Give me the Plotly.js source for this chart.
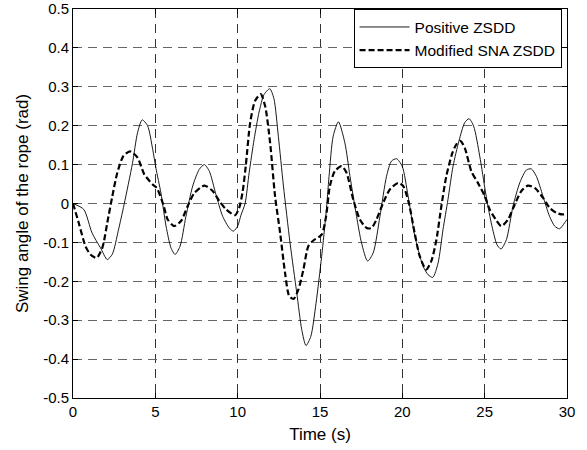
<!DOCTYPE html>
<html>
<head>
<meta charset="utf-8">
<script src="https://cdn.plot.ly/plotly-3.0.1.min.js"></script>
<style>html,body{margin:0;padding:0;background:#fff;}#chart{width:587px;height:450px;}</style>
</head>
<body>
<div id="chart"></div>
<script>
// Positive ZSDD (solid)
const timePositive = [0, 0.65, 1.16, 1.67, 2.08, 2.39, 2.75, 3.1, 3.61, 3.92, 4.2, 4.53, 4.84, 5.04, 5.34, 5.65, 5.95, 6.2, 6.5, 6.86, 7.27, 7.67, 7.98, 8.28, 8.68, 9.09, 9.49, 9.74, 10.0, 10.2, 10.45, 10.7, 11.0, 11.3, 11.6, 11.95, 12.2, 12.47, 12.78, 13.18, 13.59, 13.89, 14.15, 14.44, 14.76, 15.1, 15.37, 15.55, 15.8, 16.12, 16.51, 16.82, 17.22, 17.52, 17.89, 18.23, 18.64, 19.04, 19.34, 19.65, 19.99, 20.35, 20.72, 21.0, 21.26, 21.56, 21.85, 22.17, 22.47, 22.77, 23.08, 23.44, 23.79, 24.05, 24.33, 24.7, 25.06, 25.4, 25.75, 25.99, 26.32, 26.72, 27.13, 27.53, 27.83, 28.14, 28.54, 28.94, 29.25, 29.55, 29.85, 30];
const swingPositive = [0, -0.015, -0.076, -0.114, -0.144, -0.13, -0.07, -0.003, 0.103, 0.182, 0.215, 0.2, 0.139, 0.09, 0.027, -0.058, -0.114, -0.131, -0.11, -0.033, 0.045, 0.088, 0.1, 0.083, 0.023, -0.033, -0.063, -0.071, -0.058, -0.03, 0.0, 0.08, 0.165, 0.235, 0.28, 0.295, 0.27, 0.173, 0.045, -0.101, -0.23, -0.324, -0.365, -0.342, -0.256, -0.136, -0.024, 0.07, 0.173, 0.21, 0.156, 0.07, -0.033, -0.101, -0.148, -0.127, -0.033, 0.07, 0.109, 0.115, 0.096, 0.019, -0.076, -0.125, -0.161, -0.183, -0.19, -0.153, -0.067, 0.01, 0.096, 0.161, 0.208, 0.218, 0.199, 0.122, 0.027, -0.05, -0.106, -0.117, -0.093, -0.007, 0.053, 0.086, 0.089, 0.07, 0.019, -0.033, -0.058, -0.065, -0.05, -0.041];

// Modified SNA ZSDD (dashed)
const timeModified = [0, 0.35, 0.76, 1.06, 1.43, 1.78, 2.08, 2.39, 2.69, 3.06, 3.47, 3.92, 4.33, 4.84, 5.09, 5.5, 5.75, 6.15, 6.56, 6.96, 7.37, 7.98, 8.48, 8.89, 9.29, 9.84, 10.1, 10.3, 10.5, 10.76, 11.06, 11.4, 11.67, 11.97, 12.27, 12.58, 12.88, 13.14, 13.4, 13.69, 13.99, 14.29, 14.6, 15.1, 15.37, 15.6, 15.9, 16.31, 16.61, 17.02, 17.42, 17.83, 18.13, 18.43, 18.84, 19.24, 19.75, 20.05, 20.39, 20.75, 21.06, 21.45, 21.76, 22.07, 22.37, 22.67, 23.04, 23.28, 23.52, 23.79, 24.19, 24.59, 25.0, 25.3, 25.67, 26.01, 26.42, 26.82, 27.23, 27.63, 28.04, 28.54, 28.94, 29.35, 29.75, 30];
const swingModified = [0, -0.05, -0.11, -0.131, -0.14, -0.114, -0.05, 0.019, 0.079, 0.122, 0.134, 0.118, 0.075, 0.049, 0.04, -0.005, -0.041, -0.058, -0.045, -0.007, 0.027, 0.046, 0.032, 0.006, -0.015, -0.03, -0.01, 0.03, 0.1, 0.208, 0.264, 0.281, 0.25, 0.156, 0.019, -0.076, -0.179, -0.239, -0.245, -0.221, -0.17, -0.11, -0.095, -0.08, -0.033, 0.045, 0.083, 0.096, 0.079, 0.01, -0.041, -0.063, -0.063, -0.041, 0.002, 0.036, 0.053, 0.045, 0.002, -0.076, -0.136, -0.17, -0.148, -0.093, -0.007, 0.07, 0.13, 0.152, 0.161, 0.143, 0.083, 0.053, 0.019, -0.015, -0.041, -0.058, -0.041, -0.003, 0.032, 0.046, 0.04, 0.015, -0.011, -0.024, -0.028, -0.024];

const seriesNames = ['Positive ZSDD', 'Modified SNA ZSDD'];
const xTickVals = [0, 5, 10, 15, 20, 25, 30];
const xTickText = ['0', '5', '10', '15', '20', '25', '30'];
const yTickVals = [-0.5, -0.4, -0.3, -0.2, -0.1, 0, 0.1, 0.2, 0.3, 0.4, 0.5];
const yTickText = ['-0.5', '-0.4', '-0.3', '-0.2', '-0.1', '0', '0.1', '0.2', '0.3', '0.4', '0.5'];
const xLabel = 'Time (s)';
const yLabel = 'Swing angle of the rope (rad)';

const font = 'Liberation Sans, Arial, Helvetica, sans-serif';

const traces = [
  {x: timePositive, y: swingPositive, name: seriesNames[0], legendgroup: 'a', type: 'scatter', mode: 'lines',
   line: {color: '#000', width: 0.9, shape: 'spline', smoothing: 0.7}},
  {x: timeModified, y: swingModified, name: seriesNames[1], legendgroup: 'b', type: 'scatter', mode: 'lines',
   line: {color: '#000', width: 2.2, dash: '6px,3px', shape: 'spline', smoothing: 0.7}}
];

const axisCommon = {
  showline: true, mirror: 'ticks', linecolor: '#000', linewidth: 1,
  ticks: 'inside', ticklen: 5, tickcolor: '#000', tickwidth: 1,
  showgrid: true, griddash: '9px,6px', gridwidth: 1, ticklabeloverflow: 'allow',
  zeroline: false, tickfont: {family: font, size: 15, color: '#000'}
};

const layout = {
  width: 587, height: 450,
  paper_bgcolor: '#fff', plot_bgcolor: '#fff',
  margin: {l: 73, r: 20, t: 9, b: 52},
  showlegend: true,
  legend: {x: 0.989, xanchor: 'right', y: 0.999, yanchor: 'top',
    bgcolor: '#fff', bordercolor: '#000', borderwidth: 1,
    itemwidth: 50, tracegroupgap: 0, entrywidth: 216,
    font: {family: font, size: 15.5, color: '#000'}},
  xaxis: Object.assign({}, axisCommon, {
    range: [0, 30], tickmode: 'array', tickvals: xTickVals, ticktext: xTickText,
    gridcolor: '#333',
    title: {text: xLabel, font: {family: font, size: 17, color: '#000'}, standoff: 9}
  }),
  yaxis: Object.assign({}, axisCommon, {
    range: [-0.5, 0.5], tickmode: 'array', tickvals: yTickVals, ticktext: yTickText,
    gridcolor: '#666',
    title: {text: yLabel, font: {family: font, size: 17, color: '#000'}, standoff: 10}
  })
};

Plotly.newPlot('chart', traces, layout, {displayModeBar: false, staticPlot: true});
</script>
</body>
</html>
